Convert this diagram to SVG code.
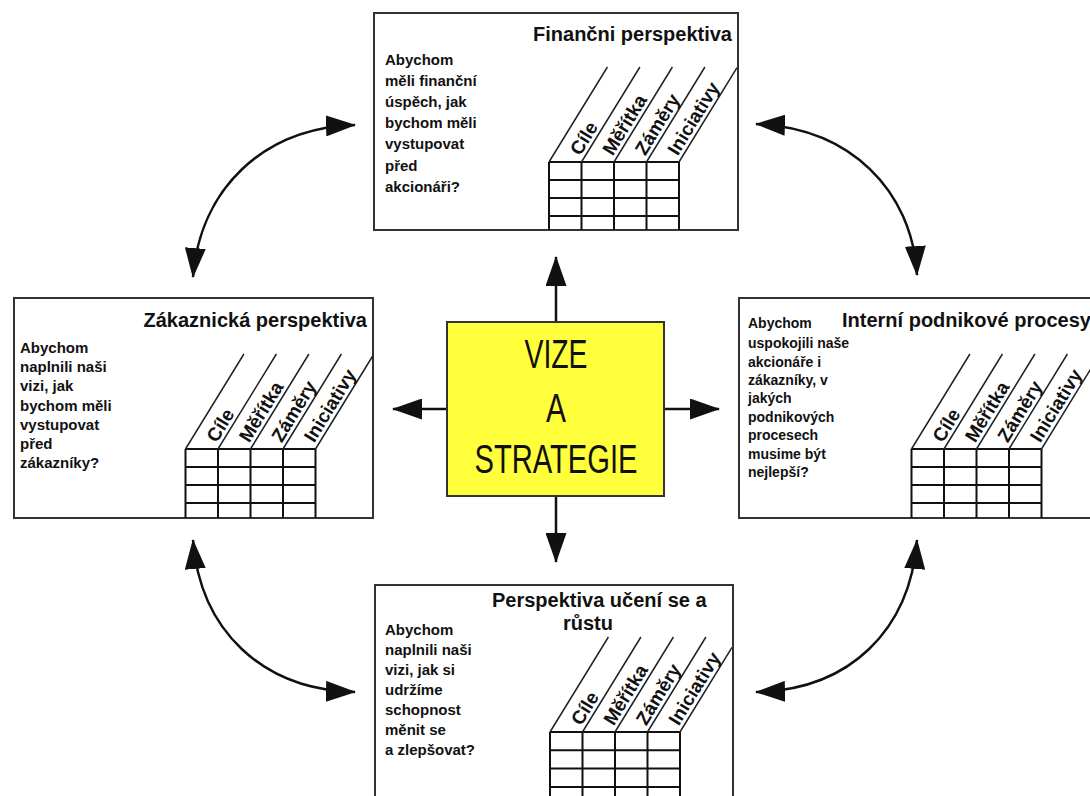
<svg xmlns="http://www.w3.org/2000/svg" width="1090" height="796" viewBox="0 0 1090 796">
<defs>
<style>
.box{fill:#fff;stroke:#333;stroke-width:2}
.tl{stroke:#111;stroke-width:2;fill:none}
.dg{stroke:#222;stroke-width:1.5;fill:none}
.title{font-family:"Liberation Sans",Arial,sans-serif;font-weight:bold;font-size:20px;fill:#111}
.body{font-family:"Liberation Sans",Arial,sans-serif;font-weight:bold;font-size:15px;fill:#111}
.bodys{font-family:"Liberation Sans",Arial,sans-serif;font-weight:bold;font-size:14px;fill:#111}
.lab{font-family:"Liberation Sans",Arial,sans-serif;font-weight:bold;font-size:19px;fill:#111}
.big{font-family:"Liberation Sans",Arial,sans-serif;font-size:40px;fill:#111}
.arr{stroke:#111;stroke-width:2.5;fill:none;marker-start:url(#ah);marker-end:url(#ah)}
.sarr{stroke:#111;stroke-width:2.5;fill:none;marker-end:url(#ah)}
</style>
<marker id="ah" viewBox="0 0 30 21" markerWidth="30" markerHeight="21" refX="29" refY="10.5" markerUnits="userSpaceOnUse" orient="auto-start-reverse">
<path d="M0,0 L30,10.5 L0,21 z" fill="#111"/>
</marker>
</defs>
<rect width="1090" height="796" fill="#fff"/>

<g id="connectors">
<line class="sarr" x1="556" y1="322" x2="556" y2="257"/>
<line class="sarr" x1="556" y1="496" x2="556" y2="562"/>
<line class="sarr" x1="447" y1="409" x2="393" y2="409"/>
<line class="sarr" x1="664" y1="409" x2="719" y2="409"/>
<path class="arr" d="M355,125 C262,128 200,190 193,277"/>
<path class="arr" d="M756,124 C850,128 912,190 917,275"/>
<path class="arr" d="M193,540 C200,630 262,690 355,692"/>
<path class="arr" d="M917,540 C910,630 850,690 756,692"/>
</g>

<g id="center">
<rect x="447" y="322" width="217" height="174" fill="#ffff3c" stroke="#333" stroke-width="2"/>
<text class="big" x="556" y="368" text-anchor="middle" textLength="63" lengthAdjust="spacingAndGlyphs">VIZE</text>
<text class="big" x="556" y="422" text-anchor="middle" textLength="20" lengthAdjust="spacingAndGlyphs">A</text>
<text class="big" x="556" y="473" text-anchor="middle" textLength="163" lengthAdjust="spacingAndGlyphs">STRATEGIE</text>
</g>

<g id="financni">
<rect class="box" x="374" y="13" width="364" height="217"/>
<text class="title" x="732" y="41" text-anchor="end">Finančni perspektiva</text>
<text class="body" x="385" y="65">Abychom</text>
<text class="body" x="385" y="86">měli finanční</text>
<text class="body" x="385" y="107">úspěch, jak</text>
<text class="body" x="385" y="128">bychom měli</text>
<text class="body" x="385" y="149">vystupovat</text>
<text class="body" x="385" y="171">před</text>
<text class="body" x="385" y="192">akcionáři?</text>
<g transform="translate(549,162)">
<path class="tl" d="M0,0V68M32.5,0V68M65,0V68M97.5,0V68M130,0V68M0,0H130M0,18H130M0,36H130M0,54H130"/>
<path class="dg" d="M0,0L58.4,-95M32.5,0L90.9,-95M65,0L123.4,-95M97.5,0L155.9,-95M130,0L188,-94.4"/>
<text class="lab" transform="translate(31.2,-5.5) rotate(-58.4)">Cíle</text>
<text class="lab" transform="translate(63.7,-5.5) rotate(-58.4)">Měřítka</text>
<text class="lab" transform="translate(96.2,-5.5) rotate(-58.4)">Záměry</text>
<text class="lab" transform="translate(128.7,-5.5) rotate(-58.4)">Iniciativy</text>
</g>
</g>

<g id="zakaznicka">
<rect class="box" x="14" y="298" width="359" height="220"/>
<text class="title" x="367" y="327" text-anchor="end">Zákaznická perspektiva</text>
<text class="body" x="20" y="353">Abychom</text>
<text class="body" x="20" y="372">naplnili naši</text>
<text class="body" x="20" y="391">vizi, jak</text>
<text class="body" x="20" y="411">bychom měli</text>
<text class="body" x="20" y="430">vystupovat</text>
<text class="body" x="20" y="449">před</text>
<text class="body" x="20" y="468">zákazníky?</text>
<g transform="translate(185.5,449)">
<path class="tl" d="M0,0V69M32.5,0V69M65,0V69M97.5,0V69M130,0V69M0,0H130M0,18H130M0,36H130M0,54H130"/>
<path class="dg" d="M0,0L58.4,-95M32.5,0L90.9,-95M65,0L123.4,-95M97.5,0L155.9,-95M130,0L187.5,-93.5"/>
<text class="lab" transform="translate(31.2,-5.5) rotate(-58.4)">Cíle</text>
<text class="lab" transform="translate(63.7,-5.5) rotate(-58.4)">Měřítka</text>
<text class="lab" transform="translate(96.2,-5.5) rotate(-58.4)">Záměry</text>
<text class="lab" transform="translate(128.7,-5.5) rotate(-58.4)">Iniciativy</text>
</g>
</g>

<g id="interni">
<rect class="box" x="739" y="298" width="360" height="220"/>
<text class="title" x="842" y="327">Interní podnikové procesy</text>
<text class="bodys" x="748" y="328">Abychom</text>
<text class="bodys" x="748" y="348">uspokojili naše</text>
<text class="bodys" x="748" y="367">akcionáře i</text>
<text class="bodys" x="748" y="385">zákazníky, v</text>
<text class="bodys" x="748" y="403">jakých</text>
<text class="bodys" x="748" y="422">podnikových</text>
<text class="bodys" x="748" y="440">procesech</text>
<text class="bodys" x="748" y="459">musime být</text>
<text class="bodys" x="748" y="477">nejlepší?</text>
<g transform="translate(911.5,449)">
<path class="tl" d="M0,0V69M32.5,0V69M65,0V69M97.5,0V69M130,0V69M0,0H130M0,18H130M0,36H130M0,54H130"/>
<path class="dg" d="M0,0L58.4,-95M32.5,0L90.9,-95M65,0L123.4,-95M97.5,0L155.9,-95M130,0L188.4,-95"/>
<text class="lab" transform="translate(31.2,-5.5) rotate(-58.4)">Cíle</text>
<text class="lab" transform="translate(63.7,-5.5) rotate(-58.4)">Měřítka</text>
<text class="lab" transform="translate(96.2,-5.5) rotate(-58.4)">Záměry</text>
<text class="lab" transform="translate(128.7,-5.5) rotate(-58.4)">Iniciativy</text>
</g>
</g>

<g id="uceni">
<rect class="box" x="375" y="585" width="358" height="230"/>
<text class="title" x="492" y="607">Perspektiva učení se a</text>
<text class="title" x="563" y="630">růstu</text>
<text class="body" x="385" y="635">Abychom</text>
<text class="body" x="385" y="655">naplnili naši</text>
<text class="body" x="385" y="675">vizi, jak si</text>
<text class="body" x="385" y="695">udržíme</text>
<text class="body" x="385" y="715">schopnost</text>
<text class="body" x="385" y="735">měnit se</text>
<text class="body" x="385" y="755">a zlepšovat?</text>
<g transform="translate(550,732)">
<path class="tl" d="M0,0V80M32.5,0V80M65,0V80M97.5,0V80M130,0V80M0,0H130M0,18.3H130M0,36.6H130M0,55H130"/>
<path class="dg" d="M0,0L58.4,-95M32.5,0L90.9,-95M65,0L123.4,-95M97.5,0L155.9,-95M130,0L182,-84.6"/>
<text class="lab" transform="translate(31.2,-5.5) rotate(-58.4)">Cíle</text>
<text class="lab" transform="translate(63.7,-5.5) rotate(-58.4)">Měřítka</text>
<text class="lab" transform="translate(96.2,-5.5) rotate(-58.4)">Záměry</text>
<text class="lab" transform="translate(128.7,-5.5) rotate(-58.4)">Iniciativy</text>
</g>
</g>
</svg>
